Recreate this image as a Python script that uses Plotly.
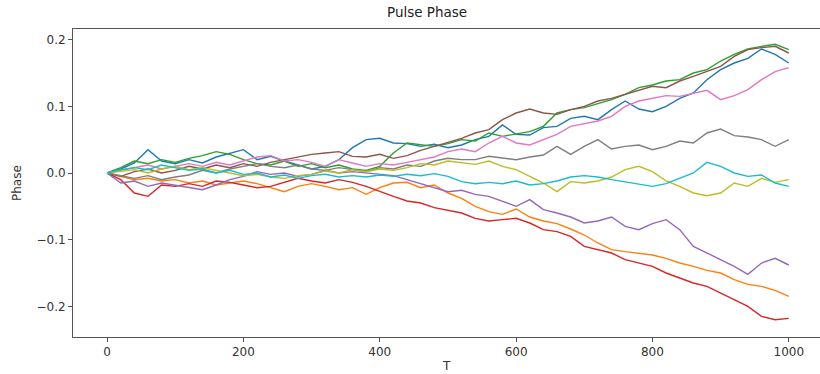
import plotly.graph_objects as go

T = list(range(0, 1001, 20))

blue = [0, 0.006, 0.015, 0.035, 0.018, 0.014, 0.02, 0.015, 0.024, 0.03, 0.035, 0.02, 0.025, 0.018, 0.012,
        0.006, 0.01, 0.02, 0.038, 0.05, 0.052, 0.045, 0.044, 0.04, 0.043, 0.038, 0.042, 0.05, 0.055, 0.072,
        0.058, 0.057, 0.068, 0.07, 0.082, 0.085, 0.08, 0.095, 0.108, 0.096, 0.092, 0.1, 0.112, 0.12, 0.14,
        0.155, 0.165, 0.172, 0.186, 0.178, 0.165]
orange = [0, -0.005, -0.01, -0.008, -0.012, -0.01, -0.015, -0.012, -0.018, -0.015, -0.012, -0.016, -0.022,
          -0.028, -0.02, -0.016, -0.02, -0.025, -0.022, -0.032, -0.022, -0.015, -0.014, -0.022, -0.018, -0.03,
          -0.038, -0.05, -0.058, -0.062, -0.054, -0.066, -0.072, -0.076, -0.084, -0.093, -0.105, -0.115, -0.118,
          -0.12, -0.123, -0.128, -0.135, -0.14, -0.146, -0.15, -0.16, -0.167, -0.17, -0.176, -0.185]
green = [0, 0.008, 0.018, 0.014, 0.02, 0.016, 0.022, 0.026, 0.032, 0.028, 0.02, 0.014, 0.012, 0.018, 0.01,
         0.014, 0.008, 0.012, 0.006, 0.004, 0.01, 0.03, 0.045, 0.042, 0.04, 0.044, 0.05, 0.048, 0.06, 0.055,
         0.058, 0.062, 0.07, 0.09, 0.095, 0.098, 0.104, 0.11, 0.118, 0.128, 0.132, 0.138, 0.14, 0.15, 0.155,
         0.168, 0.178, 0.186, 0.19, 0.193, 0.185]
red = [0, -0.01, -0.03, -0.035, -0.018, -0.02, -0.016, -0.02, -0.012, -0.014, -0.018, -0.022, -0.02, -0.014,
       -0.008, -0.012, -0.015, -0.01, -0.014, -0.02, -0.028, -0.035, -0.042, -0.045, -0.052, -0.056, -0.06,
       -0.068, -0.072, -0.07, -0.068, -0.075, -0.085, -0.088, -0.095, -0.11, -0.115, -0.12, -0.13, -0.135,
       -0.14, -0.15, -0.158, -0.165, -0.17, -0.18, -0.19, -0.2, -0.215, -0.22, -0.218]
purple = [0, -0.015, -0.012, -0.02, -0.015, -0.018, -0.022, -0.025, -0.018, -0.01, -0.005, 0.002, -0.002, 0.0,
          -0.005, -0.002, 0.004, 0.0, 0.002, 0.0, -0.002, -0.004, -0.01, -0.016, -0.022, -0.028, -0.026, -0.032,
          -0.035, -0.042, -0.05, -0.04, -0.055, -0.06, -0.066, -0.075, -0.072, -0.066, -0.08, -0.085, -0.076,
          -0.07, -0.085, -0.11, -0.12, -0.13, -0.14, -0.152, -0.135, -0.128, -0.138]
brown = [0, -0.005, 0.002, 0.006, 0.0, 0.004, 0.01, 0.006, 0.012, 0.008, 0.014, 0.01, 0.016, 0.02, 0.024,
         0.028, 0.03, 0.032, 0.025, 0.024, 0.028, 0.022, 0.026, 0.034, 0.04, 0.046, 0.052, 0.06, 0.065, 0.08,
         0.09, 0.096, 0.09, 0.088, 0.095, 0.1, 0.108, 0.112, 0.118, 0.125, 0.13, 0.128, 0.138, 0.145, 0.152,
         0.16, 0.175, 0.185, 0.188, 0.19, 0.18]
pink = [0, 0.004, 0.008, 0.012, 0.006, 0.01, 0.014, 0.01, 0.016, 0.012, 0.018, 0.024, 0.026, 0.018, 0.02,
        0.016, 0.01, 0.02, 0.015, 0.01, 0.014, 0.012, 0.016, 0.02, 0.024, 0.032, 0.036, 0.032, 0.045, 0.055,
        0.045, 0.042, 0.05, 0.058, 0.07, 0.074, 0.078, 0.085, 0.1, 0.108, 0.112, 0.116, 0.115, 0.12, 0.124,
        0.11, 0.116, 0.125, 0.14, 0.152, 0.158]
gray = [0, -0.004, -0.008, -0.004, -0.01, -0.006, -0.003, 0.004, 0.0, 0.006, 0.01, 0.014, 0.01, 0.008, 0.012,
        0.006, 0.004, 0.008, 0.005, 0.002, 0.008, 0.006, 0.012, 0.01, 0.018, 0.022, 0.02, 0.02, 0.025, 0.022,
        0.02, 0.024, 0.027, 0.04, 0.028, 0.04, 0.05, 0.036, 0.04, 0.042, 0.035, 0.04, 0.048, 0.045, 0.06,
        0.066, 0.056, 0.054, 0.05, 0.04, 0.05]
olive = [0, 0.003, 0.005, 0.0, 0.006, 0.01, 0.005, 0.008, 0.004, 0.0, -0.004, -0.002, -0.006, -0.008, -0.004,
         -0.002, 0.003, 0.0, 0.005, 0.002, 0.006, 0.004, 0.008, 0.014, 0.012, 0.018, 0.016, 0.013, 0.018, 0.01,
         0.005, -0.005, -0.015, -0.028, -0.013, -0.015, -0.012, -0.006, 0.005, 0.01, 0.002, -0.012, -0.02,
         -0.03, -0.034, -0.03, -0.015, -0.02, -0.008, -0.014, -0.01]
cyan = [0, 0.005, 0.008, 0.005, 0.012, 0.008, 0.004, 0.006, 0.0, 0.004, -0.002, 0.0, -0.006, -0.003, -0.008,
        -0.004, -0.002, -0.006, -0.004, -0.006, -0.003, -0.005, -0.002, -0.004, -0.001, -0.005, -0.013, -0.016,
        -0.014, -0.016, -0.012, -0.018, -0.016, -0.012, -0.006, -0.004, -0.006, -0.01, -0.013, -0.016, -0.02,
        -0.016, -0.008, 0.0, 0.016, 0.01, 0.0, -0.005, -0.003, -0.015, -0.02]

series = [blue, orange, green, red, purple, brown, pink, gray, olive, cyan]
colors = ["#1f77b4", "#ff7f0e", "#2ca02c", "#d62728", "#9467bd",
          "#8c564b", "#e377c2", "#7f7f7f", "#bcbd22", "#17becf"]

x_ticks = [0, 200, 400, 600, 800, 1000]
y_ticks = [-0.2, -0.1, 0.0, 0.1, 0.2]
y_tick_text = ["\u22120.2", "\u22120.1", "0.0", "0.1", "0.2"]

fig = go.Figure()
for s, c in zip(series, colors):
    fig.add_trace(go.Scatter(x=T, y=s, mode="lines", line=dict(color=c, width=1.4),
                             showlegend=False, hoverinfo="skip"))

font = "DejaVu Sans, sans-serif"
fig.update_layout(
    width=820, height=374,
    margin=dict(l=73, r=0, t=29, b=37),
    paper_bgcolor="white", plot_bgcolor="white",
    font=dict(family=font, size=12, color="#333"),
    xaxis=dict(range=[-50, 1045.8], tickvals=x_ticks, ticks="outside", ticklen=4,
               tickcolor="#555", showline=True, linecolor="#555", linewidth=1, mirror=True,
               showgrid=False, zeroline=False, tickfont=dict(size=12, color="#333")),
    yaxis=dict(range=[-0.246, 0.216], tickvals=y_ticks, ticktext=y_tick_text, ticks="outside",
               ticklen=4, tickcolor="#555", showline=True, linecolor="#555", linewidth=1,
               showgrid=False, zeroline=False, tickfont=dict(size=12, color="#333")),
    annotations=[
        dict(text="Pulse Phase", xref="paper", yref="paper", x=0.474, y=1.0, yshift=17,
             xanchor="center", yanchor="middle", showarrow=False,
             font=dict(size=13.5, color="#222")),
        dict(text="T", xref="paper", yref="paper", x=0.5, y=0, yshift=-29,
             xanchor="center", yanchor="middle", showarrow=False, font=dict(size=12, color="#333")),
        dict(text="Phase", xref="paper", yref="paper", x=0, xshift=-56, y=0.5,
             xanchor="center", yanchor="middle", showarrow=False, textangle=-90,
             font=dict(size=12, color="#333")),
    ],
)
fig.write_html("out.html")
